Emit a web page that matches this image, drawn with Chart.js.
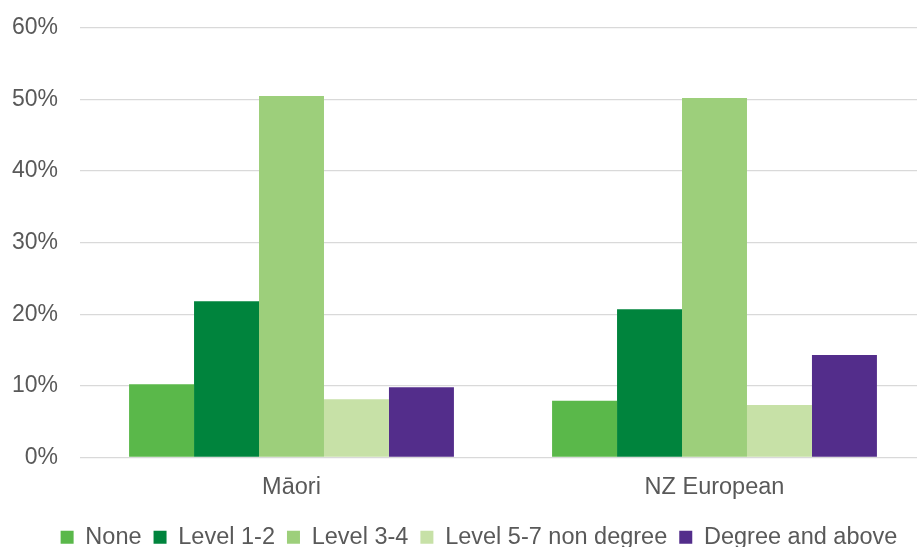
<!DOCTYPE html>
<html>
<head>
<meta charset="utf-8">
<script src="https://cdn.jsdelivr.net/npm/chart.js@4/dist/chart.umd.min.js"></script>
<style>
  html, body { margin: 0; padding: 0; background: #ffffff; overflow: hidden; width: 917px; height: 547px; }
  #wrap { position: absolute; left: 0; top: 0; width: 926px; height: 559px; }
</style>
</head>
<body>
<div id="wrap"><canvas id="chart" width="926" height="559"></canvas></div>
<script>
// Highest qualification by ethnic group (share of people)
const categories = ['Māori', 'NZ European'];
const seriesNames = ['None', 'Level 1-2', 'Level 3-4', 'Level 5-7 non degree', 'Degree and above'];
const none = [10.2, 7.9];
const level12 = [21.8, 20.7];
const level34 = [50.5, 50.2];
const level57 = [8.1, 7.3];
const degree = [9.8, 14.3];
const yTicks = [0, 10, 20, 30, 40, 50, 60];

const seriesValues = [none, level12, level34, level57, degree];
const seriesColors = ['#5ab84a', '#00843d', '#9dcf7b', '#c7e1a7', '#532d8b'];

const FONT = "'Liberation Sans', Arial, sans-serif";
const TEXT = '#595959';

// Nudges the legend row to sit centred under the whole figure
const legendShift = {
  id: 'legendShift',
  afterLayout(chart) {
    if (chart.legend) {
      chart.legend.left += 16;
      chart.legend.right += 16;
    }
  }
};

new Chart(document.getElementById('chart'), {
  type: 'bar',
  data: {
    labels: categories,
    datasets: seriesNames.map((name, i) => ({
      label: name,
      data: seriesValues[i],
      backgroundColor: seriesColors[i],
      borderWidth: 0,
      categoryPercentage: 0.768,
      barPercentage: 1.0
    }))
  },
  options: {
    responsive: false,
    animation: false,
    devicePixelRatio: 1,
    layout: { padding: { top: 28, left: 0, right: 0, bottom: 0 } },
    plugins: {
      title: { display: false },
      tooltip: { enabled: false },
      legend: {
        position: 'bottom',
        align: 'center',
        labels: {
          boxWidth: 13,
          boxHeight: 13,
          padding: 12,
          color: TEXT,
          font: { family: FONT, size: 23.5 }
        }
      }
    },
    scales: {
      x: {
        grid: { display: false, drawTicks: false },
        border: { display: false },
        ticks: { color: TEXT, font: { family: FONT, size: 23.5 }, padding: 16 },
        afterFit(scale) { scale.height = 56.2; }
      },
      y: {
        min: 0,
        max: 60,
        afterBuildTicks(scale) { scale.ticks = yTicks.map(v => ({ value: v })); },
        grid: { color: '#d9d9d9', lineWidth: 1.3, drawTicks: false },
        border: { display: false },
        ticks: {
          color: TEXT,
          font: { family: FONT, size: 23 },
          padding: 22,
          callback: v => v + '%'
        },
        afterFit(scale) {
          scale.width = 80;
          scale.paddingTop = 0;
          scale.paddingBottom = 0;
        }
      }
    }
  },
  plugins: [legendShift]
});
</script>
</body>
</html>
